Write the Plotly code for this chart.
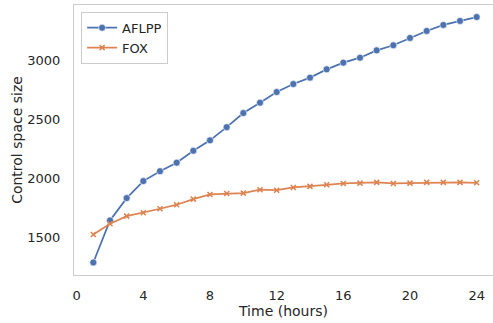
import plotly.graph_objects as go

hours = list(range(1, 25))
aflpp = [1291, 1647, 1836, 1980, 2064, 2136, 2237, 2325, 2437, 2556, 2644, 2734,
         2802, 2856, 2926, 2983, 3025, 3087, 3130, 3192, 3251, 3302, 3336, 3369]
fox = [1528, 1619, 1683, 1712, 1746, 1780, 1827, 1867, 1875, 1878, 1907, 1903,
       1926, 1935, 1949, 1960, 1963, 1969, 1960, 1963, 1969, 1969, 1969, 1966]
x_ticks = [0, 4, 8, 12, 16, 20, 24]
y_ticks = [1500, 2000, 2500, 3000]

BLUE = "#4C72B0"
ORANGE = "#DD8452"
TXT = "#262626"
SPINE = "#cccccc"
FONT = "DejaVu Sans"

fig = go.Figure()
fig.add_trace(go.Scatter(
    x=hours, y=aflpp, name="AFLPP", mode="lines+markers",
    line=dict(color=BLUE, width=1.75),
    marker=dict(symbol="circle", size=7, color=BLUE, line=dict(color="white", width=0.6)),
))
fig.add_trace(go.Scatter(
    x=hours, y=fox, name="FOX", mode="lines+markers",
    line=dict(color=ORANGE, width=1.75),
    marker=dict(symbol="x-thin", size=5, color=ORANGE, line=dict(color=ORANGE, width=1.6)),
))

fig.update_layout(
    width=493, height=323,
    margin=dict(l=74, r=0, t=5, b=48, autoexpand=False),
    paper_bgcolor="white", plot_bgcolor="white",
    font=dict(family=FONT, size=13, color=TXT),
    showlegend=True,
    legend=dict(
        x=0.017, y=0.975, xanchor="left", yanchor="top",
        bgcolor="rgba(255,255,255,0.8)", bordercolor=SPINE, borderwidth=1,
        font=dict(family=FONT, size=13, color=TXT),
        itemwidth=30, tracegroupgap=0,
    ),
    xaxis=dict(
        range=[-0.16, 24.98], tickmode="array", tickvals=x_ticks,
        ticktext=[str(v) for v in x_ticks],
        showgrid=False, zeroline=False, automargin=False,
        showline=True, linecolor=SPINE, linewidth=1.2, mirror=True,
        ticks="", ticklabelstandoff=8,
        tickfont=dict(family=FONT, size=13, color=TXT),
        title=dict(text="Time (hours)", font=dict(family=FONT, size=14, color=TXT), standoff=1),
    ),
    yaxis=dict(
        range=[1185, 3471], tickmode="array", tickvals=y_ticks,
        ticktext=[str(v) for v in y_ticks],
        showgrid=False, zeroline=False, automargin=False,
        showline=True, linecolor=SPINE, linewidth=1.2, mirror=False,
        ticks="", ticklabelstandoff=10,
        tickfont=dict(family=FONT, size=13, color=TXT),
        title=dict(text="Control space size", font=dict(family=FONT, size=14, color=TXT), standoff=1),
    ),
)

fig.write_html("out.html", config={"displayModeBar": False},
               post_script="document.body.style.margin='0';")
